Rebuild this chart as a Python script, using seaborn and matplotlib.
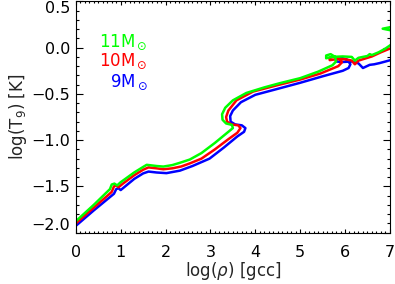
import numpy as np
import pandas as pd
import seaborn as sns
import matplotlib
matplotlib.use("Agg")
import matplotlib.pyplot as plt
from matplotlib.ticker import MultipleLocator

# Central density vs temperature tracks
rho_9 = [0.0, 0.4, 0.85, 0.9, 0.95, 1.0, 1.1, 1.3, 1.5, 1.62, 1.8, 2.02, 2.32, 2.6, 2.98,
         3.3, 3.6, 3.75, 3.78, 3.7, 3.55, 3.45, 3.44, 3.5, 3.68, 4.0, 4.54, 5.0, 5.5,
         5.95, 6.08, 6.12, 6.05, 5.92, 5.8, 5.8, 5.95, 6.15, 6.3, 6.4, 6.55, 6.65,
         6.77, 6.9, 7.05]
t9_9 = [-1.927, -1.76, -1.58, -1.53, -1.52, -1.54, -1.50, -1.42, -1.36, -1.34, -1.35,
        -1.357, -1.33, -1.28, -1.2, -1.08, -0.96, -0.91, -0.87, -0.84, -0.83, -0.80,
        -0.74, -0.68, -0.59, -0.51, -0.44, -0.38, -0.31, -0.25, -0.22, -0.18, -0.13,
        -0.11, -0.125, -0.15, -0.155, -0.15, -0.17, -0.22, -0.186, -0.18, -0.167,
        -0.15, -0.13]

rho_10 = [0.0, 0.4, 0.8, 0.85, 0.9, 0.95, 1.05, 1.3, 1.5, 1.62, 1.8, 1.95, 2.15, 2.35,
          2.55, 2.8, 3.1, 3.4, 3.6, 3.67, 3.62, 3.47, 3.37, 3.35, 3.40, 3.58, 3.95,
          4.54, 5.0, 5.45, 5.85, 5.93, 5.88, 5.75, 5.65, 5.66, 5.8, 6.0, 6.15, 6.22,
          6.3, 6.6, 6.8, 7.05]
t9_10 = [-1.90, -1.73, -1.56, -1.50, -1.49, -1.51, -1.47, -1.38, -1.32, -1.295, -1.305,
         -1.315, -1.305, -1.285, -1.25, -1.2, -1.1, -0.99, -0.92, -0.87, -0.84, -0.83,
         -0.80, -0.75, -0.68, -0.57, -0.475, -0.40, -0.345, -0.28, -0.2, -0.16, -0.115,
         -0.095, -0.11, -0.135, -0.125, -0.125, -0.14, -0.18, -0.14, -0.095, -0.05, 0.0]

rho_11 = [0.0, 0.4, 0.76, 0.8, 0.86, 0.92, 1.0, 1.3, 1.5, 1.58, 1.8, 1.95, 2.15, 2.32,
          2.54, 2.8, 3.1, 3.35, 3.5, 3.48, 3.35, 3.27, 3.26, 3.33, 3.5, 3.8, 4.2, 4.54,
          5.0, 5.4, 5.72, 5.8, 5.78, 5.68, 5.58, 5.58, 5.7, 5.95, 6.15, 6.22, 6.3, 6.5,
          6.55, 6.6, 6.75, 6.9, 7.05, 7.2, 7.2, 6.84, 7.2]
t9_11 = [-1.877, -1.70, -1.53, -1.48, -1.47, -1.49, -1.455, -1.35, -1.29, -1.267, -1.28,
         -1.286, -1.27, -1.245, -1.21, -1.14, -1.03, -0.93, -0.87, -0.835, -0.82, -0.78,
         -0.72, -0.65, -0.57, -0.49, -0.43, -0.385, -0.33, -0.26, -0.19, -0.15, -0.10,
         -0.07, -0.085, -0.115, -0.10, -0.095, -0.10, -0.14, -0.11, -0.09, -0.07, -0.08,
         -0.05, -0.01, 0.04, 0.10, 0.24, 0.205, 0.17]

masses = ["9", "10", "11"]
colors = ["#0000ff", "#ff0000", "#00ff00"]
label_y = [-0.37, -0.15, 0.055]

xticks = [0, 1, 2, 3, 4, 5, 6, 7]
yticks = [-2.0, -1.5, -1.0, -0.5, 0.0, 0.5]
ytick_labels = ["\u22122.0", "\u22121.5", "\u22121.0", "\u22120.5", "0.0", "0.5"]

sns.set_style("ticks")
plt.rcParams['font.family'] = ['DejaVu Sans']
plt.rcParams['mathtext.fontset'] = 'dejavusans'

fig = plt.figure(figsize=(3.95, 2.84), dpi=100)
ax = fig.add_axes([0.192, 0.181, 0.795, 0.814])

tracks = [(rho_9, t9_9), (rho_10, t9_10), (rho_11, t9_11)]
for (rx, ty), c in zip(tracks, colors):
    df = pd.DataFrame({"rho": rx, "t9": ty})
    sns.lineplot(data=df, x="rho", y="t9", sort=False, estimator=None,
                 color=c, lw=1.8, ax=ax)

ax.set_xlim(0, 7)
ax.set_ylim(-2.0, 0.5)
ax.set_xticks(xticks)
ax.set_yticks(yticks)
ax.set_yticklabels(ytick_labels)
ax.xaxis.set_minor_locator(MultipleLocator(0.1))
ax.yaxis.set_minor_locator(MultipleLocator(0.1))
ax.tick_params(axis='both', which='both', direction='in', top=True, right=True,
               labelsize=11.5, colors='black', width=0.8)
ax.tick_params(axis='x', which='major', length=3, pad=9)
ax.tick_params(axis='x', which='minor', length=1.6)
ax.tick_params(axis='y', which='major', length=5, pad=4)
ax.tick_params(axis='y', which='minor', length=2.5)
for s in ax.spines.values():
    s.set_color('black')
    s.set_linewidth(0.8)

# end labels kept inside the figure, like the reference
ylabels = ax.get_yticklabels()
ylabels[0].set_va('bottom')
ylabels[-1].set_va('top')

ax.set_xlabel(r"log($\rho$) [gcc]", fontsize=12, labelpad=0)
ax.set_ylabel(r"log(T$_9$) [K]", fontsize=12, labelpad=2)

for m, c, yy in zip(masses, colors, label_y):
    ax.text(1.6, yy, r"$\mathrm{" + m + r"M}_\odot$", color=c, fontsize=12,
            ha='right', va='center')

fig.savefig("out.png", dpi=100)
